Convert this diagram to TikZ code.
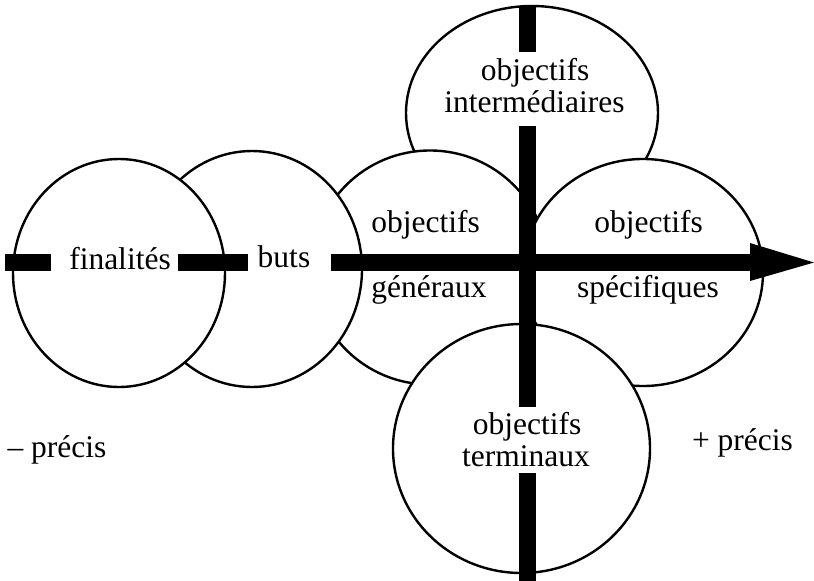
\documentclass[tikz,border=0pt]{standalone}
\usepackage{fontspec}
\setmainfont{Liberation Serif}
\usetikzlibrary{calc}
\begin{document}
\begin{tikzpicture}[x=1pt,y=-1pt,
  disc/.style={draw=black,fill=white,line width=2.4pt},
  bar/.style={line width=17pt,line cap=butt},
  lbl/.style={font=\fontsize{31.5}{32}\selectfont,inner sep=0pt,anchor=base,align=center}]
\useasboundingbox (0,0) rectangle (814,581);
% the six ellipses, from back to front
\draw[disc] (532,113) ellipse [x radius=126pt,y radius=107pt];
\draw[disc] (430,267.5) ellipse [x radius=118pt,y radius=117pt];
\draw[disc] (643,272.5) ellipse [x radius=120pt,y radius=113.5pt];
\draw[disc] (252,269) ellipse [x radius=110pt,y radius=118pt];
\draw[disc] (119,273) ellipse [x radius=106pt,y radius=114pt];
\draw[disc] (521.5,448.5) ellipse [x radius=128.5pt,y radius=124.5pt];
% ends of the axis segments
\coordinate (h0) at (5,262.5);
\coordinate (h1) at (51,262.5);
\coordinate (h2) at (178,262.5);
\coordinate (h3) at (248,262.5);
\coordinate (h4) at (331,262.5);
\coordinate (h5) at (750,262.5);
\coordinate (tip) at (814,262.5);
\coordinate (v0) at (527.5,6);
\coordinate (v1) at (527.5,52);
\coordinate (v2) at (527.5,126);
\coordinate (v3) at (527.5,407);
\coordinate (v4) at (527.5,473);
\coordinate (v5) at (527.5,581);
% horizontal axis with arrowhead
\draw[bar] (h0) -- (h1);
\draw[bar] (h2) -- (h3);
\draw[bar] (h4) -- (h5);
\fill ($(h5)+(0,-19.5)$) -- (tip) -- ($(h5)+(0,18.5)$) -- cycle;
% vertical axis
\draw[bar] (v0) -- (v1);
\draw[bar] (v2) -- (v3);
\draw[bar] (v4) -- (v5);
% labels
\node[lbl] (fin) at (120,269) {finalités};
\node[lbl] (but) at (284,267) {buts};
\node[lbl] (og1) at (425.5,232) {objectifs};
\node[lbl] (og2) at (429,297) {généraux};
\node[lbl] (os1) at (648.5,232) {objectifs};
\node[lbl] (os2) at (648,297) {spécifiques};
\node[lbl] (oi1) at (535,80) {objectifs};
\node[lbl] (oi2) at (534.5,112) {intermédiaires};
\node[lbl] (ot1) at (527,434) {objectifs};
\node[lbl] (ot2) at (526,466) {terminaux};
\node[lbl] (moins) at (57,457) {– précis};
\node[lbl] (plus) at (742.5,450) {+ précis};
\end{tikzpicture}
\end{document}
